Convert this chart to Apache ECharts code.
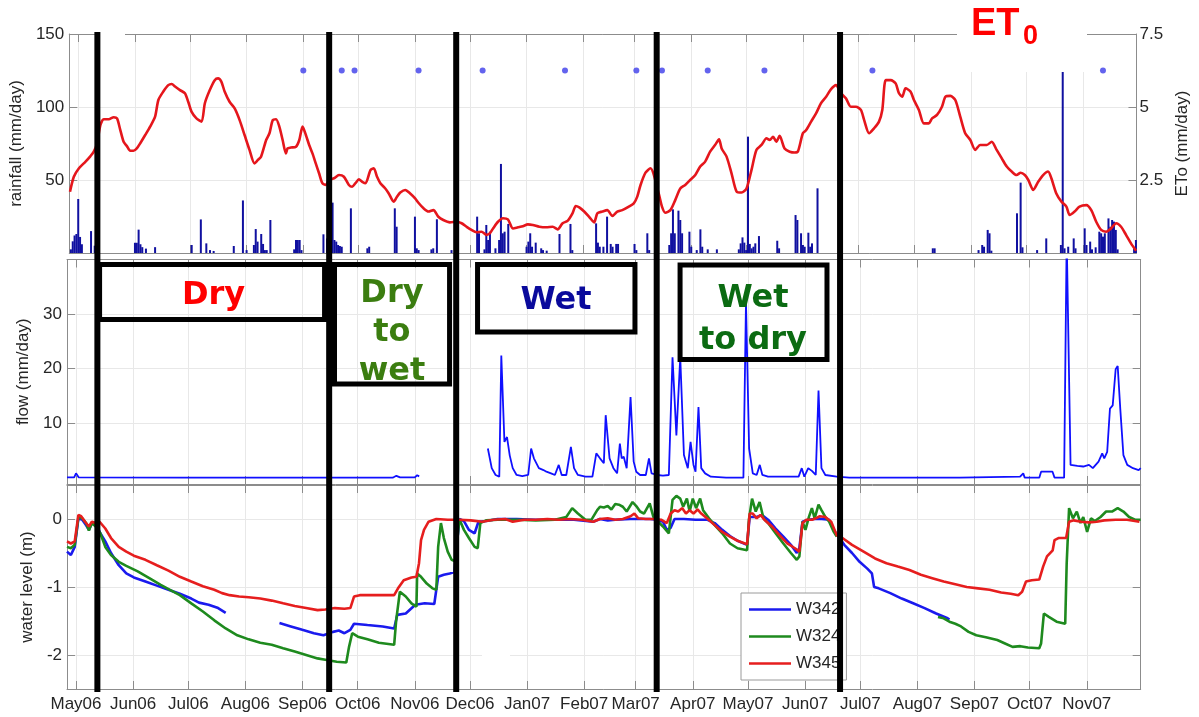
<!DOCTYPE html>
<html><head><meta charset="utf-8">
<script src="https://cdn.jsdelivr.net/npm/echarts@6/dist/echarts.min.js"></script>
<style>html,body{margin:0;padding:0;background:#fff}#c{width:1199px;height:717px}</style>
</head><body><div id="c"></div>
<script>
// ---------- DATA (x = days since 1 May 2006) ----------
const monthLabels = ['May06','Jun06','Jul06','Aug06','Sep06','Oct06','Nov06','Dec06','Jan07','Feb07','Mar07','Apr07','May07','Jun07','Jul07','Aug07','Sep07','Oct07','Nov07'];
const rainfall = [[-4,2.5],[-3,8],[-2,12],[-1,13],[0,37],[1,11],[2,6],[7,15],[9,5],[10,4],
[31,7],[32,7],[33,16],[34,6],[35,4],[37,3],[42,4],
[62,5.5],[67,23],[70,6.6],[72,2],[74,1.4],
[85,4.8],[90,36],[92,2],[96,5.5],[97,16.4],[98,7.8],[100,13],[101,6.2],[102,2],[103,2],[105,22.6],
[118,2.5],[119,8.9],[120,8.9],[121,8.9],[122,2],
[134,12.8],[136,10],[139,34.5],[140,8.9],[141,7.8],[142,5.5],[143,4.8],[144,4.3],
[149,30.6],[158,3.2],[159,4.3],[173,30.6],[174,18],
[184,24.9],[185,3.2],[186,2],[193,2.5],[194,3.2],[196,23.1],[204,2],
[218,24.9],[219,13.5],[222,2.5],[223,19.2],[224,8.9],[225,14.6],[228,3.2],
[230,8.9],[231,61],[232,13.5],[233,14.6],[235,19.9],
[245,4.3],[246,7.8],[247,13.5],[248,4.3],[250,7.1],[253,3.2],[254,2],[256,1.6],
[263,13],[269,19.9],[270,2],
[283,20.3],[284,7.1],[285,4.3],[287,4.3],[289,24.9],[291,6.2],[292,4.3],[294,6.2],[295,6.2],
[304,6.2],[305,2],[311,13.5],[312,2],
[323,5.5],[324,13.5],[325,29.9],[326,13.5],[328,29],[329,22.6],[330,13.5],[334,14.6],[335,4.3],[338,2],[340,16.2],[341,4.3],[344,2.5],[349,2.5],
[361,2.5],[362,6.6],[363,10.7],[364,7.1],[365,2],[366,79.7],[367,6.2],[368,3.2],[369,4.3],[370,6.6],[372,11.6],
[382,8.4],[383,3.2],[392,26],[393,22.6],[395,13.5],[396,5.5],[397,4.3],[399,13.9],[400,4.3],[401,6.6],[404,44.3],
[467,3.2],[468,3.2],
[492,2],[494,5.5],[495,4.3],[497,15.8],[498,13.5],[499,1.6],
[513,27.2],[515,48.2],[516,3.9],[524,2],[529,10],
[537,5.5],[538,130],[539,3.2],[541,4.3],[544,10],[545,3.2],[550,16.9],[551,5.5],[553,7.8],[554,2.5],[556,3.9],[558,14.6],[559,13.5],[560,11.2],[561,13.5],[563,23.7],[564,18],[565,22.6],[566,21.5],[567,15.8],[568,2.5],[577,3.2],[578,8.9]];
const visitDays = [123,144,151,186,221,266,305,319,344,375,434,560];
const visitLevel = 125;
const et0 = [[-4.5,2.10],[-2.4,2.61],[0.4,2.90],[4.0,3.13],[6.7,3.32],[8.5,3.47],[10.3,3.76],[12.1,4.38],[13.9,4.58],[16.7,4.58],[19.4,4.65],[21.2,4.61],[23.0,4.21],[24.8,3.81],[26.6,3.66],[28.4,3.50],[30.2,3.50],[32.0,3.58],[33.9,3.76],[36.6,4.04],[39.3,4.33],[42.0,4.67],[43.8,5.24],[46.5,5.53],[49.2,5.75],[51.1,5.79],[52.9,5.70],[55.6,5.58],[58.3,5.47],[60.1,5.18],[61.9,4.84],[64.6,4.61],[67.4,4.50],[69.2,5.13],[71.9,5.58],[74.6,5.92],[76.4,5.98],[78.2,5.87],[80.0,5.53],[82.7,5.18],[85.5,4.95],[88.2,4.55],[90.9,4.04],[93.6,3.53],[96.3,3.07],[98.1,3.18],[99.9,3.30],[102.7,3.87],[104.5,4.10],[106.3,4.55],[108.1,4.58],[109.9,4.33],[111.7,3.87],[113.5,3.41],[114.4,3.58],[116.2,3.61],[119.0,3.64],[120.8,3.87],[122.6,4.33],[124.4,4.04],[126.2,3.70],[128.0,3.41],[129.8,3.07],[131.6,2.73],[133.4,2.39],[135.3,2.33],[137.1,2.50],[139.8,2.56],[142.5,2.67],[145.2,2.61],[147.9,2.33],[149.7,2.27],[151.5,2.39],[153.4,2.52],[155.2,2.44],[157.0,2.39],[159.7,2.84],[161.5,2.90],[163.3,2.61],[165.1,2.39],[167.8,2.21],[169.7,2.04],[172.4,1.76],[174.2,1.93],[176.0,2.07],[178.7,2.16],[181.4,2.04],[184.1,1.87],[185.9,1.72],[188.7,1.53],[191.4,1.42],[194.1,1.47],[196.8,1.24],[199.5,1.13],[203.1,1.05],[206.8,1.07],[209.5,1.02],[212.2,0.90],[214.9,0.79],[217.6,0.71],[220.4,0.73],[223.1,0.62],[224.9,0.67],[226.7,0.84],[229.4,1.07],[232.1,1.19],[234.8,1.15],[237.6,0.84],[240.3,0.88],[243.0,0.92],[245.7,0.98],[248.4,0.96],[252.0,0.90],[255.7,0.88],[259.3,0.90],[262.0,0.81],[264.7,1.02],[267.4,1.10],[270.1,1.36],[271.9,1.61],[273.8,1.56],[276.5,1.42],[279.2,1.24],[281.9,1.05],[283.7,1.36],[286.4,1.42],[289.1,1.47],[291.9,1.27],[294.6,1.42],[297.3,1.47],[300.9,1.59],[303.6,1.70],[305.5,1.93],[307.3,2.33],[310.0,2.75],[312.7,2.90],[317.2,2.04],[319.0,1.59],[320.8,1.38],[323.6,1.47],[326.3,1.82],[329.0,2.21],[331.7,2.33],[334.4,2.50],[337.2,2.67],[339.9,2.96],[342.6,3.13],[345.3,3.47],[348.0,3.70],[350.2,3.89],[351.6,3.58],[354.3,3.30],[357.0,2.73],[359.8,2.10],[362.5,2.07],[365.2,2.21],[367.9,2.84],[370.6,3.53],[373.4,3.70],[376.1,3.93],[377.9,3.87],[379.7,3.98],[381.5,3.81],[383.3,4.01],[386.0,3.58],[388.8,3.47],[391.5,3.44],[393.3,3.48],[396.0,4.10],[397.8,4.21],[400.5,4.50],[403.2,4.78],[405.9,5.13],[408.7,5.35],[411.4,5.61],[414.1,5.75],[416.8,5.47],[419.5,5.30],[422.2,5.01],[425.0,5.01],[427.7,4.90],[429.5,4.55],[432.2,4.10],[434.9,4.27],[437.6,4.50],[439.4,4.90],[441.3,5.92],[444.0,5.92],[446.7,5.81],[448.5,5.47],[450.3,5.35],[452.1,5.64],[454.8,5.53],[456.7,5.24],[459.4,4.90],[462.1,4.44],[464.8,4.44],[466.6,4.61],[469.3,4.73],[472.0,5.01],[473.9,5.35],[476.6,5.38],[479.3,5.24],[482.0,4.67],[484.7,4.10],[487.5,3.87],[490.2,3.53],[492.9,3.70],[496.5,3.70],[499.2,3.81],[501.9,3.53],[504.7,3.24],[507.4,2.96],[510.1,2.79],[512.8,2.67],[515.0,2.75],[517.3,2.67],[519.2,2.50],[521.9,2.16],[524.6,2.44],[527.3,2.67],[530.0,2.79],[531.8,2.56],[534.5,2.04],[537.3,1.76],[540.0,1.59],[541.8,1.30],[544.5,1.42],[547.2,1.59],[550.9,1.64],[553.6,1.47],[556.3,1.07],[559.0,0.79],[561.7,0.73],[564.4,0.84],[567.2,1.02],[569.9,0.90],[572.6,0.62],[575.3,0.33],[578.1,0.08]];
const flowDry2006 = [[-4.9,0.1],[-1,0.1],[0,0.85],[1.5,0.1],[60,0.05],[120,0.05],[172,0.05],[174,0.4],[176,0.1],[184,0.1],[185.3,0.5],[186.4,0.3]];
const flowWet = [[223.7,5.4],[225.8,1.8],[227.9,0.55],[229.9,0.24],[231.0,22.4],[232.7,6.6],[234.1,7.5],[235.6,4.1],[237.2,1.8],[239.3,0.55],[242.4,0.36],[245.6,0.55],[247.2,5.4],[248.7,3.6],[249.7,3.9],[251.4,1.8],[253.9,1.45],[255.5,1.15],[258.0,0.85],[260.1,0.55],[262.2,2.4],[263.8,0.55],[266.3,0.55],[268.8,5.7],[270.5,1.8],[272.6,0.55],[276.7,0.24],[280.5,0.24],[282.6,4.5],[284.6,3.6],[286.7,2.7],[287.7,11.5],[289.8,3.6],[291.9,1.8],[293.9,0.85],[295.4,6.3],[296.4,3.6],[297.5,3.9],[299.1,1.8],[301.2,14.8],[302.9,3.0],[304.3,1.15],[306.4,0.55],[309.5,0.55],[311.2,3.6],[312.6,0.85],[315.7,0.55],[318.8,0.42],[322.0,0.55],[324.0,22.1],[326.1,7.8],[328.2,22.1],[330.2,4.2],[332.3,1.8],[333.8,6.6],[335.4,2.4],[336.5,1.15],[338.1,13.0],[339.6,1.8],[341.7,0.85],[344.8,0.24],[353.1,0.06],[362.5,0.06],[363.9,32.2],[365.6,5.4],[367.6,0.85],[369.7,0.55],[371.4,2.4],[372.8,0.55],[375.9,0.24],[382.1,0.24],[392.5,0.24],[394.2,1.8],[395.6,0.24],[397.7,1.8],[399.7,1.3],[401.8,0.55],[403.3,16.0],[404.9,1.8],[407.0,0.55],[413.2,0.24],[420,0.06],[480,0.06],[512.8,0.24],[514.5,0.85],[515.3,0.06],[523.2,0.06],[524.2,1.15],[530.4,1.15],[531.5,0.06],[536.7,0.06],[538.1,44],[540.2,2.4],[543.9,2.2],[547.1,2.1],[550.2,2.4],[552.3,1.8],[555.4,3.0],[557.4,4.5],[558.5,3.6],[560.1,4.8],[561.6,12.7],[563.1,13.3],[564.7,19.9],[565.8,20.5],[567.2,12.7],[568.9,4.2],[571.0,2.4],[574.1,1.8],[577.2,1.45],[578.3,1.8]];
const w342 = [[-4.9,-0.48],[-2.8,-0.53],[-0.7,-0.41],[1.3,0.01],[3.4,-0.01],[5.4,-0.09],[7,-0.16],[8.6,-0.06],[10.7,-0.06],[13.2,-0.21],[15.9,-0.33],[19,-0.5],[23.2,-0.68],[27.3,-0.8],[31.4,-0.86],[37.7,-0.92],[43.9,-0.98],[50.2,-1.04],[56.4,-1.1],[62.6,-1.17],[66.8,-1.23],[72,-1.26],[77.2,-1.31],[81.3,-1.38],[95,null],[110.5,-1.53],[116.7,-1.58],[122.9,-1.63],[129.2,-1.68],[134.4,-1.71],[139.6,-1.66],[142.7,-1.64],[145.8,-1.68],[149,-1.63],[151,-1.54],[158.3,-1.56],[166.6,-1.58],[172.8,-1.61],[174.5,-1.41],[179.1,-1.39],[184.3,-1.26],[189.4,-1.24],[194.6,-1.25],[196.7,-0.85],[199.8,-0.82],[203,-0.8],[205.5,-0.78],[208.2,0],[210.7,-0.03],[213.4,-0.16],[216.5,-0.21],[218.6,-0.04],[222.7,-0.03],[229,0],[239.3,0],[249.7,-0.01],[260.1,-0.01],[270.5,-0.01],[280.9,-0.04],[284.6,0],[288.8,-0.02],[292.9,-0.01],[301.2,0],[311.6,0],[315.7,-0.01],[318.8,-0.04],[320.9,-0.16],[323,-0.13],[325.1,0],[330.2,0],[336.5,-0.01],[342.7,-0.01],[346.9,-0.06],[351,-0.16],[355.2,-0.25],[359.3,-0.32],[364.5,-0.38],[365.9,0.03],[369.7,0.03],[372.6,0.06],[375.9,-0.01],[380,-0.14],[384.2,-0.26],[388.3,-0.38],[391.5,-0.5],[392.9,-0.43],[394.6,-0.04],[397.7,-0.01],[401,0],[405,0],[409.1,-0.01],[411.6,-0.16],[414.2,-0.26],[417.3,-0.38],[421.5,-0.5],[425.6,-0.63],[429.8,-0.73],[432.3,-0.8],[433.5,-1.0],[436,-1.02],[442.3,-1.09],[448.5,-1.17],[454.7,-1.24],[460.9,-1.31],[467.2,-1.39],[473.4,-1.46],[474.4,-1.48]];
const w324 = [[-4.9,-0.41],[-2.8,-0.43],[-0.7,-0.38],[1.3,0.03],[3.4,0.01],[5.5,-0.06],[7,-0.17],[8.6,-0.06],[10.7,-0.11],[13.2,-0.21],[15.9,-0.41],[19,-0.53],[23.2,-0.63],[27.3,-0.69],[33.5,-0.77],[39.8,-0.87],[46,-0.97],[52.3,-1.06],[56.4,-1.12],[62.6,-1.24],[68.9,-1.36],[75.1,-1.49],[81.3,-1.61],[87.6,-1.71],[93.8,-1.77],[100.1,-1.82],[106.3,-1.85],[112.5,-1.9],[118.8,-1.95],[125,-2.0],[131.2,-2.05],[135.4,-2.07],[141.6,-2.1],[146.8,-2.11],[148.3,-1.88],[150,-1.68],[153.1,-1.73],[158.3,-1.77],[164.5,-1.82],[172.8,-1.85],[173.9,-1.49],[175.9,-1.07],[179.1,-1.14],[182.2,-1.24],[184.9,-1.29],[185.3,-0.8],[187.4,-0.85],[190.5,-0.95],[193.6,-1.02],[195.7,-1.04],[196.7,-0.41],[198.2,-0.06],[199.8,-0.28],[201.9,-0.48],[204,-0.6],[206,-0.62],[208.2,0],[210.7,-0.16],[213.4,-0.28],[216.5,-0.41],[218.2,-0.43],[219.6,-0.06],[222.7,-0.02],[229,-0.01],[240,-0.01],[249.7,-0.02],[260.1,-0.01],[266.3,0.03],[269.5,0.16],[272.6,0.08],[276.7,-0.01],[280,-0.01],[283.1,0.13],[284.6,0.18],[286.7,0.17],[288.8,0.19],[290.8,0.14],[292.9,0.22],[294.9,0.21],[297,0.18],[299.1,0.11],[302.3,0.25],[304.3,0.19],[306.4,0.11],[308.5,0.08],[311.6,0.23],[313.6,0.03],[318.8,-0.11],[322,-0.21],[324,0.28],[326.1,0.34],[328.2,0.3],[329.8,0.18],[331.8,0.3],[333.3,0.11],[335,0.3],[336.8,0.16],[339,0.3],[340.6,0.13],[343.8,0.01],[346.9,-0.09],[351,-0.21],[355.2,-0.36],[359.3,-0.43],[364.5,-0.46],[365.5,-0.01],[367.2,0.3],[369.2,0.11],[371.3,0.25],[373.4,0.01],[375.9,-0.06],[380,-0.21],[384.2,-0.36],[388.3,-0.5],[391.5,-0.6],[392.9,-0.55],[394.6,-0.04],[396.2,-0.16],[398.1,0.03],[399.7,0.16],[401.2,0.01],[403.3,0.21],[404.9,0.13],[407,0.03],[409.1,-0.04],[411.6,-0.19],[413.2,-0.26],[440,null],[468.2,-1.44],[471.3,-1.46],[474.4,-1.51],[477.6,-1.54],[480.7,-1.58],[484.8,-1.66],[489,-1.71],[494.2,-1.74],[500.4,-1.78],[504.6,-1.83],[508.7,-1.88],[512.9,-1.87],[517,-1.89],[523.2,-1.9],[524.2,-1.83],[525.7,-1.39],[528.4,-1.44],[532.6,-1.51],[537.3,-1.54],[538.1,-0.65],[539.4,0.16],[541.5,0.01],[543.6,0.11],[545.6,-0.06],[547.1,0.03],[549.2,-0.19],[551.3,0.01],[553.4,-0.03],[556.5,0.03],[559.5,0.11],[562.7,0.11],[565.8,0.16],[568.9,0.11],[572,0.03],[575.2,-0.01],[578.3,-0.01]];
const w345 = [[-4.9,-0.33],[-2.8,-0.36],[-0.7,-0.33],[1.3,0.06],[2.8,0.04],[4.9,-0.04],[7,-0.11],[8.6,-0.04],[10.7,-0.06],[12.8,-0.04],[15.9,-0.14],[19,-0.28],[23.2,-0.41],[27.3,-0.48],[31.4,-0.54],[37.7,-0.6],[43.9,-0.68],[50.2,-0.76],[56.4,-0.85],[62.6,-0.92],[68.9,-0.99],[75.1,-1.04],[79.3,-1.09],[83.4,-1.12],[88.6,-1.14],[93.8,-1.15],[100.1,-1.17],[106.3,-1.2],[112.5,-1.24],[118.8,-1.28],[125,-1.31],[131.2,-1.34],[135.4,-1.33],[140.6,-1.31],[145.8,-1.32],[149,-1.31],[151,-1.14],[154.1,-1.12],[162.4,-1.12],[172.8,-1.12],[174.9,-1.02],[178,-0.9],[182.2,-0.86],[184.9,-0.85],[186.3,-0.65],[187.4,-0.31],[189,-0.16],[191.5,-0.04],[195.7,0],[201.9,-0.01],[208.2,-0.01],[214.4,-0.02],[220.6,-0.04],[226.9,-0.01],[233.1,0],[237.2,-0.04],[243.5,-0.01],[249.7,-0.01],[256,0],[262.2,-0.01],[268.4,0],[274.7,-0.01],[280.9,-0.04],[284.6,0],[288.8,0.01],[292.9,-0.01],[297,0],[301.2,0.04],[303.3,0.08],[305.4,0.01],[309.5,0],[313.6,0],[317.8,-0.01],[320.9,-0.06],[323,0.08],[325.1,0.13],[327.1,0.11],[329.2,0.16],[331.3,0.08],[333.3,0.13],[335.4,0.08],[337.6,0.14],[339.6,0.08],[342.7,0.01],[346.9,-0.09],[351,-0.19],[355.2,-0.26],[359.3,-0.32],[364.5,-0.37],[365.9,0.08],[367.6,0.08],[369.7,0.01],[371.8,0.06],[373.9,-0.01],[378,-0.11],[382.2,-0.24],[386.3,-0.36],[390.5,-0.43],[392.9,-0.48],[394.6,-0.06],[396.7,-0.01],[399.8,-0.01],[401.8,0.01],[404,0.04],[407,0.03],[410.2,-0.04],[413.2,-0.24],[416.3,-0.28],[421.5,-0.38],[427.8,-0.48],[434,-0.58],[440.2,-0.65],[446.4,-0.7],[452.7,-0.75],[458.9,-0.82],[465.1,-0.87],[471.3,-0.92],[477.6,-0.96],[483.8,-1.0],[490,-1.02],[496.2,-1.04],[502.5,-1.08],[507.7,-1.1],[511.8,-1.12],[513.9,-1.07],[516,-0.92],[519.1,-0.9],[523.2,-0.89],[525.3,-0.7],[527.4,-0.55],[530.5,-0.46],[531.5,-0.31],[533.6,-0.28],[537.8,-0.28],[539.4,-0.04],[541.9,-0.02],[546,-0.04],[550.2,-0.05],[554.4,-0.04],[558.5,-0.02],[564.7,-0.01],[570.9,-0.01],[577.6,-0.04]];
// phase boundaries (days) and annotation boxes in (day, flow) coordinates
const phaseBounds = [11.6, 137.5, 206.5, 315.4, 415.0];
const phaseBoxes = [
  {x1:12.8, x2:135.0, y1:39.1, y2:29.0, text:'Dry', color:'#ff0000', tx:74.7, ty:33.4, lh:38},
  {x1:140.4, x2:202.9, y1:39.1, y2:17.2, text:'Dry\nto\nwet', color:'#3b7d10', tx:171.6, ty:26.6, lh:39},
  {x1:218.1, x2:303.6, y1:39.1, y2:26.75, text:'Wet', color:'#0a0a9c', tx:260.7, ty:32.4, lh:38},
  {x1:328.1, x2:407.9, y1:39.0, y2:21.7, text:'Wet\nto dry', color:'#0b6b12', tx:367.7, ty:29.0, lh:42}
];

// ---------- BUILD ----------
const BASE = Date.UTC(2006, 4, 1);
const monthDays = monthLabels.map((_, i) => Math.round((Date.UTC(2006, 4 + i, 1) - BASE) / 86400000));
const labelOfDay = {}; monthDays.forEach((d, i) => labelOfDay[d] = monthLabels[i]);
const X_MIN = -4.9, X_MAX = 578.3;
const AX = '#8c8c8c', GRIDC = '#e8e8e8', TXT = '#262626', FONT = 'Liberation Sans';

function xAx(grid, pos, labels) {
  return {
    type: 'value', gridIndex: grid, position: pos, min: X_MIN, max: X_MAX,
    axisLine: {show: true, onZero: false, lineStyle: {color: AX, width: 1}},
    axisTick: {show: true, inside: true, length: 8, customValues: monthDays, lineStyle: {color: AX}},
    axisLabel: {show: labels, customValues: monthDays, formatter: v => labelOfDay[v] || '', color: TXT, fontSize: 17, fontFamily: FONT, margin: 7},
    splitLine: {show: pos === 'bottom', lineStyle: {color: GRIDC, width: 1}}
  };
}
function yAx(grid, pos, min, max, ticks, labels, name, gap, split) {
  return {
    type: 'value', gridIndex: grid, position: pos, min: min, max: max,
    name: name || '', nameLocation: 'middle', nameGap: gap || 0, nameRotate: 90,
    nameTextStyle: {fontSize: 17, color: TXT, fontFamily: FONT},
    axisLine: {show: true, onZero: false, lineStyle: {color: AX, width: 1}},
    axisTick: {show: true, inside: true, length: 8, customValues: ticks, lineStyle: {color: AX}},
    axisLabel: {show: labels, customValues: ticks, color: TXT, fontSize: 17, fontFamily: FONT, margin: pos === 'left' ? 5 : 3},
    splitLine: {show: split, lineStyle: {color: GRIDC, width: 1}}
  };
}

const chart = echarts.init(document.getElementById('c'));
chart.setOption({
  animation: false,
  backgroundColor: '#fff',
  grid: [
    {left: 67, right: 58.3, top: 34, height: 219},
    {left: 67, right: 58.3, top: 259.5, height: 224.5},
    {left: 67, right: 58.3, top: 485, height: 204}
  ],
  xAxis: [xAx(0, 'bottom', false), xAx(0, 'top', false), xAx(1, 'bottom', false), xAx(1, 'top', false), xAx(2, 'bottom', true), xAx(2, 'top', false)],
  yAxis: [
    yAx(0, 'left', 0, 150, [50, 100, 150], true, 'rainfall (mm/day)', 42, true),
    yAx(0, 'right', 0, 7.5, [2.5, 5, 7.5], true, 'ETo (mm/day)', 36, false),
    yAx(1, 'left', -1.1, 40, [10, 20, 30], true, 'flow (mm/day)', 33, true),
    yAx(1, 'right', -1.1, 40, [10, 20, 30], false, '', 0, false),
    yAx(2, 'left', -2.5, 0.5, [-2, -1, 0], true, 'water level (m)', 28, true),
    yAx(2, 'right', -2.5, 0.5, [-2, -1, 0], false, '', 0, false)
  ],
  legend: {
    data: ['W342', 'W324', 'W345'], orient: 'vertical', left: 741, top: 593,
    icon: 'rect', itemWidth: 42, itemHeight: 2.6, itemGap: 10, padding: [8, 6, 8, 8],
    borderColor: '#9a9a9a', borderWidth: 1, backgroundColor: '#fff',
    textStyle: {fontSize: 17, color: TXT, fontFamily: FONT, lineHeight: 14}
  },
  series: [
    {name: 'rainfall', type: 'bar', xAxisIndex: 0, yAxisIndex: 0, data: rainfall, barWidth: 2, itemStyle: {color: '#1010a0'}},
    {name: 'visits', type: 'scatter', xAxisIndex: 0, yAxisIndex: 0, data: visitDays.map(d => [d, visitLevel]), symbol: 'circle', symbolSize: 6, itemStyle: {color: '#3c3cea'}},
    {name: 'ET0', type: 'line', xAxisIndex: 0, yAxisIndex: 1, data: et0, showSymbol: false, smooth: 0.25, lineStyle: {color: '#e5161c', width: 2.6}},
    {name: 'flowA', type: 'line', xAxisIndex: 2, yAxisIndex: 2, data: flowDry2006, showSymbol: false, lineStyle: {color: '#1010ff', width: 1.8}},
    {name: 'flowB', type: 'line', xAxisIndex: 2, yAxisIndex: 2, data: flowWet, showSymbol: false, lineStyle: {color: '#1010ff', width: 1.8}},
    {name: 'W342', type: 'line', xAxisIndex: 4, yAxisIndex: 4, data: w342, symbol: 'none', lineStyle: {color: '#1a1aee', width: 2.6}, itemStyle: {color: '#1a1aee'}},
    {name: 'W324', type: 'line', xAxisIndex: 4, yAxisIndex: 4, data: w324, symbol: 'none', lineStyle: {color: '#1e8a1e', width: 2.6}, itemStyle: {color: '#1e8a1e'}},
    {name: 'W345', type: 'line', xAxisIndex: 4, yAxisIndex: 4, data: w345, symbol: 'none', lineStyle: {color: '#e61e1e', width: 2.6}, itemStyle: {color: '#e61e1e'}}
  ]
});

// ---------- ANNOTATIONS (positions from the chart's own scales) ----------
function P(xi, yi, d, v) { return chart.convertToPixel({xAxisIndex: xi, yAxisIndex: yi}, [d, v]); }
const topY = P(0, 0, 0, 150)[1], botY = P(4, 4, 0, -2.5)[1];
const g = [];
// white cover patches (as in the source figure)
g.push({type: 'rect', z: 99, shape: {x: 957, y: 0, width: 130, height: 72}, style: {fill: '#fff'}});
g.push({type: 'rect', z: 99, shape: {x: 100, y: topY - 5, width: 25, height: 9}, style: {fill: '#fff'}});
g.push({type: 'rect', z: 99, shape: {x: 482, y: P(4, 4, 0, -2)[1] - 3, width: 28, height: 6}, style: {fill: '#fff'}});
phaseBoxes.forEach(b => {
  const p1 = P(2, 2, b.x1, b.y1), p2 = P(2, 2, b.x2, b.y2);
  g.push({type: 'rect', z: 100, shape: {x: p1[0], y: p1[1], width: p2[0] - p1[0], height: p2[1] - p1[1]}, style: {fill: 'none', stroke: '#000', lineWidth: 5}});
  const t = P(2, 2, b.tx, b.ty);
  g.push({type: 'text', z: 102, x: t[0], y: t[1], style: {text: b.text, fill: b.color, font: 'bold 32px "DejaVu Sans"', align: 'center', verticalAlign: 'middle', lineHeight: b.lh}});
});
phaseBounds.forEach(d => {
  const x = P(4, 4, d, 0)[0];
  g.push({type: 'line', z: 101, shape: {x1: x, y1: topY - 2, x2: x, y2: botY + 3}, style: {stroke: '#000', lineWidth: 6}});
});
g.push({type: 'text', z: 102, x: 971, y: 25, style: {text: 'ET', fill: '#ff0000', font: 'bold 38px "Liberation Sans"', align: 'left', verticalAlign: 'middle'}});
g.push({type: 'text', z: 102, x: 1023, y: 37, style: {text: '0', fill: '#ff0000', font: 'bold 27px "Liberation Sans"', align: 'left', verticalAlign: 'middle'}});
chart.setOption({graphic: g});
</script></body></html>
